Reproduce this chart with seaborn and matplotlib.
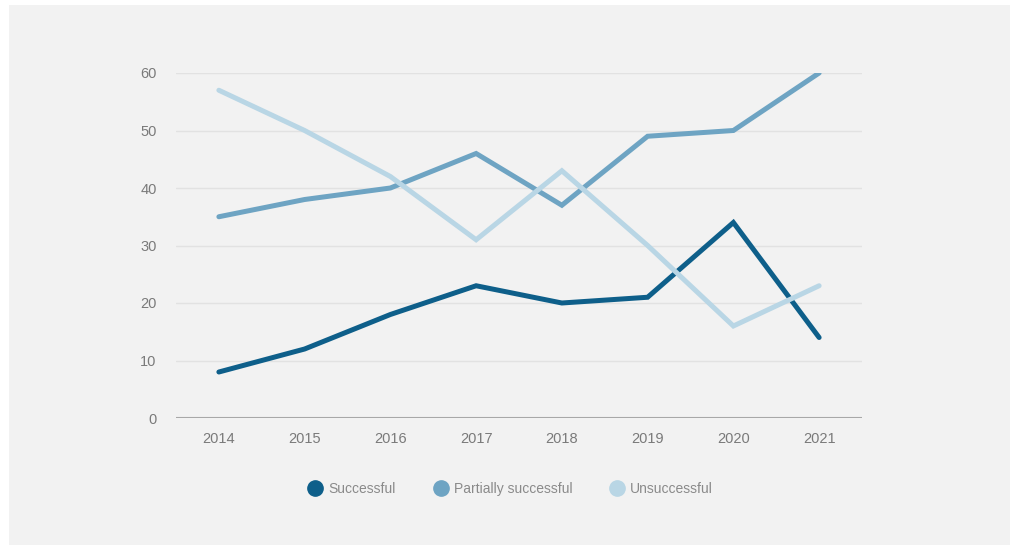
import matplotlib
matplotlib.use("Agg")
import matplotlib.pyplot as plt
from matplotlib.lines import Line2D
from matplotlib.patches import Rectangle
import seaborn as sns
import pandas as pd

years = [2014, 2015, 2016, 2017, 2018, 2019, 2020, 2021]
successful = [8, 12, 18, 23, 20, 21, 34, 14]
partially_successful = [35, 38, 40, 46, 37, 49, 50, 60]
unsuccessful = [57, 50, 42, 31, 43, 30, 16, 23]
series_names = ["Successful", "Partially successful", "Unsuccessful"]
y_ticks = [0, 10, 20, 30, 40, 50, 60]

colors = ["#0e5f8a", "#6ea4c3", "#b9d6e5"]

df = pd.DataFrame({
    "year": years * 3,
    "value": successful + partially_successful + unsuccessful,
    "outcome": [series_names[0]] * len(years)
    + [series_names[1]] * len(years)
    + [series_names[2]] * len(years),
})
df["pos"] = df["year"] - years[0]

sns.set_style("white")
plt.rcParams["font.family"] = ["Liberation Sans", "DejaVu Sans"]

fig = plt.figure(figsize=(10.10, 5.45), dpi=100)
fig.patch.set_facecolor("white")
fig.patches.append(Rectangle((9 / 1010, 0), 1 - 9 / 1010, 1 - 5 / 545,
                             transform=fig.transFigure, facecolor="#f2f2f2",
                             edgecolor="none", zorder=-10))

ax = fig.add_axes([176 / 1010, 1 - 418 / 545, 686 / 1010, 345 / 545])
ax.set_facecolor("none")

# later series are drawn over earlier ones
sns.lineplot(data=df, x="pos", y="value", hue="outcome",
             hue_order=series_names, palette=dict(zip(series_names, colors)),
             linewidth=3.6, legend=False, ax=ax, solid_capstyle="round",
             solid_joinstyle="miter")
for line in ax.get_lines():
    line.set_zorder(3)

ax.set_xlim(-0.5, len(years) - 0.5)
ax.set_ylim(0, 60)
ax.set_xticks(range(len(years)))
ax.set_xticklabels([str(y) for y in years])
ax.set_yticks(y_ticks)
ax.set_yticklabels([str(t) for t in y_ticks])
ax.set_xlabel("")
ax.set_ylabel("")

for t in y_ticks[1:]:
    ax.axhline(t, color="#e2e2e2", linewidth=1.0, zorder=1)
ax.axhline(0, color="#a8a8a8", linewidth=1.5, zorder=2)

for s in ax.spines.values():
    s.set_visible(False)
ax.tick_params(axis="both", length=0, labelsize=10.5, labelcolor="#7a7a7a")
ax.tick_params(axis="x", pad=10)
ax.tick_params(axis="y", pad=14)

handles = [Line2D([], [], marker="o", linestyle="none", markersize=11,
                  markerfacecolor=c, markeredgecolor=c) for c in colors]
leg = fig.legend(handles, series_names, loc="center", ncol=3,
                 bbox_to_anchor=(510 / 1010, 1 - 489 / 545), frameon=False,
                 fontsize=10, handletextpad=0.35, columnspacing=2.6,
                 handlelength=1.2)
for txt in leg.get_texts():
    txt.set_color("#8a8a8a")

fig.savefig("out.png", dpi=100)
